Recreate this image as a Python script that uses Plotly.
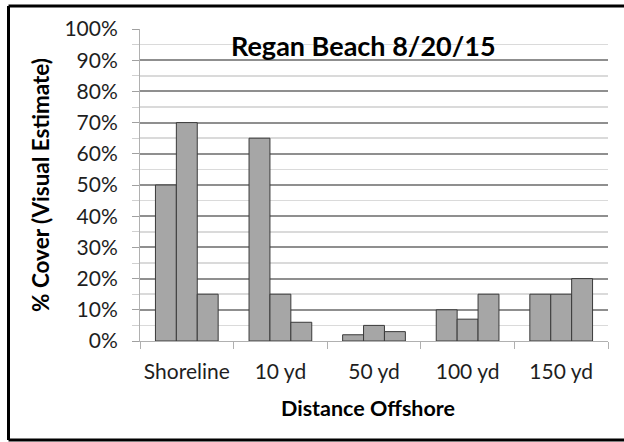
import plotly.graph_objects as go

categories = ["Shoreline", "10 yd", "50 yd", "100 yd", "150 yd"]
series_a = [50, 65, 2, 10, 15]
series_b = [70, 15, 5, 7, 15]
series_c = [15, 6, 3, 15, 20]
y_ticks = list(range(0, 101, 10))
y_tick_labels = [f"{v}%" for v in y_ticks]

FONT = "Lato"
fig = go.Figure()
for name, vals in [("A", series_a), ("B", series_b), ("C", series_c)]:
    fig.add_trace(go.Bar(
        x=categories, y=vals, name=name,
        marker=dict(color="#a6a6a6", line=dict(color="#3a3a3a", width=1)),
        showlegend=False, hoverinfo="skip",
    ))

W, H = 624, 442
L, R, T, B = 140, 16, 29, 101
pw = W - L - R
ph = H - T - B

def px(x):
    return (x - L) / pw

def py(y):
    return (H - B - y) / ph

fig.update_layout(
    # start small enough that the page never overflows (no scrollbar),
    # then grow to full size once the body margin is removed
    width=W - 16, height=H - 16,
    margin=dict(l=L, r=R, t=T, b=B, autoexpand=False),
    paper_bgcolor="white", plot_bgcolor="white",
    barmode="group", bargap=0.33, bargroupgap=0,
    font=dict(family=FONT, color="#1e1e1e", size=21),
    xaxis=dict(
        type="category", tickson="boundaries", ticks="outside", ticklen=7,
        tickcolor="#b0b0b0", showline=True, linecolor="#b0b0b0", linewidth=1,
        showgrid=False, tickfont=dict(size=21, family=FONT),
        ticklabelstandoff=12, tickangle=0, automargin=False,
    ),
    yaxis=dict(
        range=[0, 100], tickvals=y_ticks, ticktext=y_tick_labels,
        ticks="outside", ticklen=7, tickcolor="#a0a0a0",
        showline=True, linecolor="#b0b0b0", linewidth=1,
        showgrid=True, gridcolor="#8f8f8f", gridwidth=2,
        zeroline=False, tickfont=dict(size=21, family=FONT),
        ticklabelstandoff=10, automargin=False,
        minor=dict(dtick=5, showgrid=True, gridcolor="#dadada", gridwidth=1.5,
                   ticks="outside", ticklen=7, tickcolor="#d0d0d0"),
    ),
)

fig.add_annotation(text="<b>Regan Beach 8/20/15</b>", xref="paper", yref="paper",
                   x=px(363), y=py(45), xanchor="center", yanchor="middle",
                   showarrow=False, font=dict(size=27, family=FONT, color="black"))
fig.add_annotation(text="<b>% Cover (Visual Estimate)</b>", xref="paper", yref="paper",
                   x=px(40), y=py(185), xanchor="center", yanchor="middle", textangle=-90,
                   showarrow=False, font=dict(size=22.5, family=FONT, color="black"))
fig.add_annotation(text="<b>Distance Offshore</b>", xref="paper", yref="paper",
                   x=px(368), y=py(408), xanchor="center", yanchor="middle",
                   showarrow=False, font=dict(size=21.5, family=FONT, color="black"))

# outer frame: top, left, bottom edges (right edge lies outside the picture)
for (x0, y0, x1, y1) in [(8.5, 6, 700, 6), (8.5, 6, 8.5, 440), (8.5, 440, 700, 440)]:
    fig.add_shape(type="line", xref="paper", yref="paper",
                  x0=px(x0), x1=px(x1), y0=py(y0), y1=py(y1),
                  line=dict(color="black", width=3), layer="above")

post = (
    "document.documentElement.style.overflow='hidden';"
    "document.body.style.overflow='hidden';"
    "document.body.style.margin='0';"
    "var gd=document.getElementById('{plot_id}');"
    "gd.style.width='%dpx';gd.style.height='%dpx';"
    "Plotly.relayout(gd,{width:%d,height:%d});" % (W, H, W, H)
)

fig.write_html(
    "out.html",
    config={"displayModeBar": False, "staticPlot": True},
    post_script=post,
)
